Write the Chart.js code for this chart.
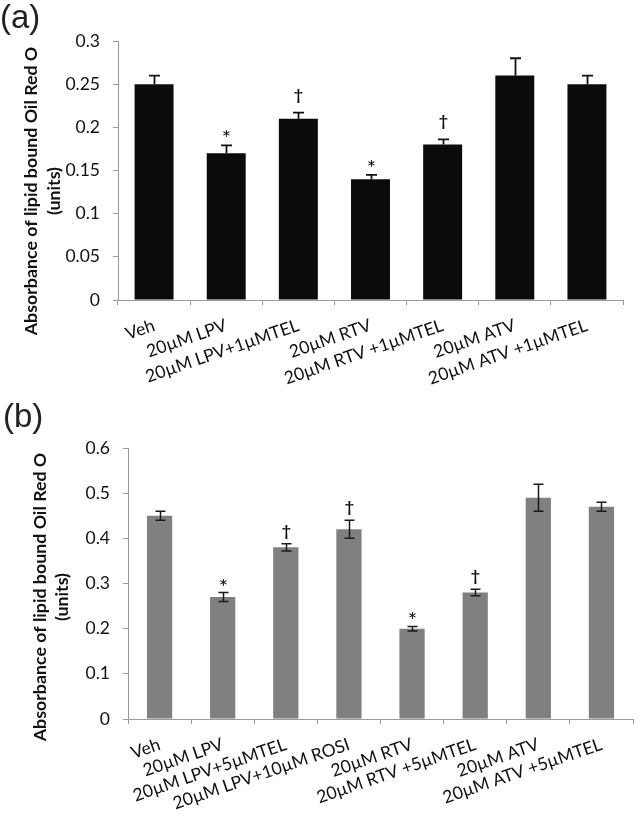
<!DOCTYPE html>
<html><head><meta charset="utf-8">
<script src="https://cdn.jsdelivr.net/npm/chart.js@4"></script>
<style>
html,body{margin:0;padding:0;background:#fff;}
#wrap{position:relative;width:638px;height:816px;overflow:hidden;}
canvas{position:absolute;left:0;}
</style></head><body>
<div id="wrap">
<canvas id="ca" width="638" height="400" style="top:0"></canvas>
<canvas id="cb" width="638" height="416" style="top:400px"></canvas>
</div>
<script>
// ---- data ----
const categoriesA = ['Veh','20µM LPV','20µM LPV+1µMTEL','20µM RTV','20µM RTV +1µMTEL','20µM ATV','20µM ATV +1µMTEL'];
const valuesA = [0.25, 0.17, 0.21, 0.14, 0.18, 0.26, 0.25];
const errorsA = [0.01, 0.009, 0.007, 0.005, 0.006, 0.02, 0.01];
const marksA = ['', '*', '†', '*', '†', '', ''];
const yTicksA = [0, 0.05, 0.1, 0.15, 0.2, 0.25, 0.3];

const categoriesB = ['Veh','20µM LPV','20µM LPV+5µMTEL','20µM LPV+10µM ROSI','20µM RTV','20µM RTV +5µMTEL','20µM ATV','20µM ATV +5µMTEL'];
const valuesB = [0.45, 0.27, 0.38, 0.42, 0.20, 0.28, 0.49, 0.47];
const errorsB = [0.01, 0.01, 0.008, 0.02, 0.005, 0.007, 0.03, 0.01];
const marksB = ['', '*', '†', '†', '*', '†', '', ''];
const yTicksB = [0, 0.1, 0.2, 0.3, 0.4, 0.5, 0.6];

const yTitleLines = ['Absorbance of lipid bound Oil Red O', '(units)'];
const panelLabelA = '(a)';
const panelLabelB = '(b)';

// ---- rendering ----
const FONT = 'Lato';
const AXIS = '#9a9a9a';
const MARK_FONTS = { '*': '22px ' + FONT, '†': 'bold 16px ' + FONT };

function overlay(o){
  return {
    id: 'overlay',
    afterDatasetsDraw(chart){
      const ctx = chart.ctx, xs = chart.scales.x, ys = chart.scales.y;
      const vals = chart.data.datasets[0].data;
      ctx.save();
      ctx.strokeStyle = o.errColor; ctx.lineWidth = o.errWidth;
      vals.forEach((v, i) => {
        const px = Math.round(xs.getPixelForValue(i)) + 0.5;
        const top = ys.getPixelForValue(v + o.errors[i]);
        const bot = o.both ? ys.getPixelForValue(v - o.errors[i]) : ys.getPixelForValue(v);
        ctx.beginPath();
        ctx.moveTo(px, top); ctx.lineTo(px, bot);
        ctx.moveTo(px - o.cap, top); ctx.lineTo(px + o.cap, top);
        if (o.both) { ctx.moveTo(px - o.cap, bot); ctx.lineTo(px + o.cap, bot); }
        ctx.stroke();
        const m = o.marks[i];
        if (m) {
          ctx.font = MARK_FONTS[m];
          ctx.fillStyle = '#111';
          ctx.textAlign = 'center';
          ctx.textBaseline = 'alphabetic';
          const tm = ctx.measureText(m);
          const glyphBottom = top - o.markGap[m];
          ctx.fillText(m, px, glyphBottom - tm.actualBoundingBoxDescent);
        }
      });
      ctx.restore();
    },
    afterDraw(chart){
      const ctx = chart.ctx;
      ctx.save();
      ctx.fillStyle = '#111';
      ctx.font = 'bold ' + o.titleSize + 'px ' + FONT;
      ctx.textAlign = 'center'; ctx.textBaseline = 'middle';
      yTitleLines.forEach((t, k) => {
        ctx.save();
        ctx.translate(o.titleX[k], o.titleY);
        ctx.rotate(-Math.PI / 2);
        ctx.fillText(t, 0, 0);
        ctx.restore();
      });
      ctx.font = o.panelSize + 'px "Liberation Sans"';
      ctx.fillStyle = '#222';
      ctx.textAlign = 'left'; ctx.textBaseline = 'alphabetic';
      ctx.fillText(o.panel, o.panelX, o.panelY);
      ctx.restore();
    }
  };
}

function build(id, o){
  return new Chart(document.getElementById(id), {
    type: 'bar',
    data: { labels: o.cats, datasets: [{ data: o.vals, backgroundColor: o.color, borderWidth: 0, barPercentage: o.barPct, categoryPercentage: 1 }] },
    options: {
      responsive: false, animation: false,
      layout: { padding: { left: 0, right: o.padRight, top: o.padTop, bottom: 0 } },
      plugins: { legend: { display: false }, tooltip: { enabled: false } },
      scales: {
        x: {
          grid: { offset: true, drawOnChartArea: false, drawTicks: true, tickLength: 5, color: AXIS },
          border: { color: AXIS, width: 1 },
          ticks: { minRotation: 19, maxRotation: 19, autoSkip: false, color: '#111', padding: o.xPad, font: { family: FONT, size: o.xTickSize } },
          afterFit(s){ s.height = o.xh; }
        },
        y: {
          min: 0, max: o.yt[o.yt.length - 1],
          afterBuildTicks(s){ s.ticks = o.yt.map(v => ({ value: v })); },
          grid: { drawOnChartArea: false, drawTicks: true, tickLength: 5, color: AXIS },
          border: { color: AXIS, width: 1 },
          ticks: { color: '#111', padding: 13, font: { family: FONT, size: o.yTickSize }, callback: v => String(v) },
          afterFit(s){ s.width = o.yw; }
        }
      }
    },
    plugins: [overlay(o)]
  });
}

build('ca', {
  cats: categoriesA, vals: valuesA, errors: errorsA, marks: marksA, yt: yTicksA,
  color: '#0b0b0d', barPct: 0.54, padRight: 15, padTop: 41, xh: 100, yw: 118, xPad: 10, xTickSize: 17.5, yTickSize: 17.5,
  errColor: '#111', errWidth: 1.8, cap: 5.5, both: false, markGap: { '*': 8, '†': 10 },
  titleSize: 17.8, titleX: [31.5, 54], titleY: 191, panel: panelLabelA, panelSize: 33, panelX: 0, panelY: 28
});
build('cb', {
  cats: categoriesB, vals: valuesB, errors: errorsB, marks: marksB, yt: yTicksB,
  color: '#808080', barPct: 0.40, padRight: 5, padTop: 48, xh: 97, yw: 128, xPad: 10, xTickSize: 17.5, yTickSize: 17.5,
  errColor: '#1a1a1a', errWidth: 1.5, cap: 5, both: true, markGap: { '*': 7, '†': 5 },
  titleSize: 17.8, titleX: [40, 62], titleY: 197, panel: panelLabelB, panelSize: 33, panelX: 3, panelY: 27
});
</script>
</body></html>
